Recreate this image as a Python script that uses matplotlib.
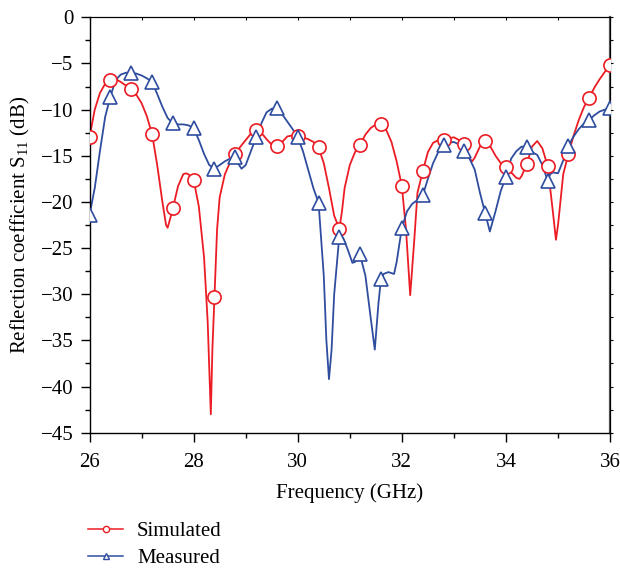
#### __import packages__ ####

import matplotlib
matplotlib.use("Agg")
import matplotlib.pyplot as plt
from matplotlib.ticker import MultipleLocator


#### __data__ ####

# dense trace of the simulated curve (GHz, dB)
sim_freq = [26.0, 26.1, 26.2, 26.3, 26.4, 26.5, 26.6, 26.7, 26.8, 26.9,
            27.0, 27.1, 27.2, 27.3, 27.4, 27.47, 27.5, 27.55, 27.6, 27.7,
            27.8, 27.85, 27.9, 28.0, 28.1, 28.2, 28.27, 28.33, 28.36, 28.4,
            28.45, 28.5, 28.6, 28.7, 28.8, 28.9, 29.0, 29.1, 29.2, 29.3,
            29.4, 29.5, 29.6, 29.7, 29.8, 29.9, 30.0, 30.1, 30.2, 30.3,
            30.4, 30.5, 30.6, 30.7, 30.8, 30.85, 30.9, 31.0, 31.1, 31.2,
            31.3, 31.4, 31.5, 31.6, 31.7, 31.8, 31.9, 32.0, 32.08, 32.16,
            32.24, 32.3, 32.4, 32.5, 32.6, 32.7, 32.8, 32.9, 33.0, 33.1,
            33.2, 33.3, 33.35, 33.4, 33.5, 33.6, 33.7, 33.8, 33.9, 34.0,
            34.1, 34.2, 34.26, 34.3, 34.4, 34.5, 34.6, 34.7, 34.8, 34.9,
            34.96, 35.0, 35.1, 35.2, 35.3, 35.4, 35.5, 35.6, 35.7, 35.8,
            35.9, 36.0]
sim_s11 = [-13.0, -10.0, -8.2, -7.2, -6.8, -6.7, -7.0, -7.4, -7.8, -8.4,
           -9.3, -10.7, -12.6, -16.0, -20.0, -22.5, -22.8, -21.8, -20.7, -18.3,
           -17.0, -16.9, -17.0, -17.6, -20.5, -26.0, -33.0, -43.0, -36.0, -30.3,
           -23.0, -19.5, -17.0, -15.7, -14.8, -14.0, -13.3, -12.6, -12.2, -12.5,
           -13.2, -13.8, -13.9, -13.5, -12.9, -12.8, -12.9, -13.0, -13.2, -13.5,
           -14.1, -15.8, -18.5, -21.5, -22.9, -21.0, -18.5, -16.0, -14.6, -13.8,
           -12.7, -12.0, -11.6, -11.6, -12.2, -13.5, -15.6, -18.3, -23.0, -30.1,
           -24.0, -19.0, -16.7, -14.6, -13.6, -13.3, -13.3, -13.1, -13.0, -13.3,
           -13.75, -15.3, -15.6, -15.2, -14.0, -13.4, -14.0, -15.0, -15.8, -16.2,
           -16.8, -17.4, -17.5, -17.2, -15.9, -14.0, -13.4, -14.2, -16.1, -21.0,
           -24.1, -22.5, -17.0, -14.8, -12.8, -11.1, -9.7, -8.7, -7.6, -6.7,
           -5.9, -5.2]

# dense trace of the measured curve (GHz, dB)
meas_freq = [26.0, 26.1, 26.2, 26.3, 26.4, 26.5, 26.6, 26.7, 26.8, 26.9,
             27.0, 27.1, 27.2, 27.3, 27.4, 27.5, 27.6, 27.7, 27.8, 27.9,
             28.0, 28.1, 28.2, 28.3, 28.4, 28.5, 28.6, 28.7, 28.8, 28.85,
             28.92, 29.0, 29.1, 29.2, 29.3, 29.4, 29.5, 29.6, 29.7, 29.8,
             29.9, 30.0, 30.1, 30.2, 30.3, 30.4, 30.5, 30.55, 30.6, 30.65,
             30.7, 30.8, 30.87, 30.95, 31.05, 31.1, 31.2, 31.3, 31.4, 31.48,
             31.55, 31.6, 31.65, 31.74, 31.85, 31.9, 32.0, 32.1, 32.2, 32.3,
             32.4, 32.5, 32.6, 32.7, 32.8, 32.9, 33.0, 33.1, 33.2, 33.3,
             33.4, 33.5, 33.6, 33.69, 33.8, 33.9, 34.0, 34.1, 34.2, 34.3,
             34.4, 34.5, 34.6, 34.7, 34.8, 34.85, 34.9, 35.0, 35.1, 35.2,
             35.3, 35.4, 35.5, 35.6, 35.7, 35.8, 35.9, 36.0]
meas_s11 = [-21.4, -18.5, -14.5, -10.8, -8.6, -6.8, -6.2, -6.0, -6.0, -6.1,
            -6.3, -6.6, -7.0, -8.3, -9.7, -10.9, -11.5, -11.6, -11.6, -11.7,
            -12.0, -13.3, -14.8, -16.0, -16.4, -16.0, -15.6, -15.3, -15.1, -15.8,
            -16.4, -16.0, -14.5, -13.0, -11.5, -10.3, -9.9, -9.8, -10.5, -11.3,
            -12.1, -13.0, -14.5, -16.5, -18.5, -20.1, -28.0, -35.0, -39.2, -36.0,
            -30.0, -23.6, -23.9, -25.0, -26.6, -26.5, -25.8, -28.0, -32.5, -36.0,
            -31.0, -28.3, -27.8, -27.6, -27.8, -26.5, -22.8, -21.0, -20.2, -19.8,
            -19.3, -17.5, -15.8, -14.6, -13.8, -13.6, -13.5, -13.8, -14.45, -15.3,
            -16.5, -19.0, -21.2, -23.2, -21.0, -18.8, -17.3, -15.3, -14.5, -14.0,
            -14.1, -14.6, -14.9, -16.0, -17.7, -17.0, -16.8, -16.9, -15.5, -13.9,
            -12.9, -12.1, -11.5, -11.1, -10.6, -10.2, -10.0, -9.8]

# marker positions, every 0.4 GHz
marker_freq = [26.0, 26.4, 26.8, 27.2, 27.6, 28.0, 28.4, 28.8, 29.2, 29.6,
               30.0, 30.4, 30.8, 31.2, 31.6, 32.0, 32.4, 32.8, 33.2, 33.6,
               34.0, 34.4, 34.8, 35.2, 35.6, 36.0]
sim_marker = [-13.0, -6.8, -7.8, -12.6, -20.7, -17.6, -30.3, -14.8, -12.2, -13.9,
              -12.9, -14.1, -22.9, -13.8, -11.6, -18.3, -16.7, -13.3, -13.75, -13.4,
              -16.2, -15.9, -16.1, -14.8, -8.7, -5.2]
meas_marker = [-21.4, -8.6, -6.0, -7.0, -11.5, -12.0, -16.4, -15.1, -13.0, -9.8,
               -13.0, -20.1, -23.8, -25.6, -28.3, -22.8, -19.3, -13.8, -14.45, -21.2,
               -17.3, -14.1, -17.7, -13.9, -11.1, -9.8]

red = "#ec1c24"
blue = "#2f4d9f"


#### __plot__ ####

plt.rcParams["font.family"] = ["Liberation Serif", "DejaVu Serif"]
plt.rcParams["mathtext.default"] = "regular"
plt.rcParams["font.size"] = 15

fig = plt.figure(figsize=(6.2, 5.68), dpi=100)
ax = fig.add_axes([0.1444, 0.2382, 0.8396, 0.7313])

ax.plot(sim_freq, sim_s11, color=red, lw=1.3, zorder=2)
ax.plot(meas_freq, meas_s11, color=blue, lw=1.3, zorder=2)
ax.plot(marker_freq, sim_marker, ls="none", marker="o", ms=9.5,
        mfc="white", mec=red, mew=1.2, zorder=3)
ax.plot(marker_freq, meas_marker, ls="none", marker="^", ms=9.5,
        mfc="white", mec=blue, mew=1.2, zorder=3)

# legend handles drawn with small markers
h_sim, = ax.plot([], [], color=red, lw=1.1, marker="o", ms=4.5, mfc="white", mec=red, mew=1.0)
h_meas, = ax.plot([], [], color=blue, lw=1.1, marker="^", ms=4.5, mfc="white", mec=blue, mew=1.0)
fig.legend([h_sim, h_meas], ["Simulated", "Measured"], loc="lower left",
           bbox_to_anchor=(0.142, 0.0), frameon=False, borderpad=0,
           borderaxespad=0, handlelength=1.7, handletextpad=0.65,
           labelspacing=0.36, fontsize=15)

ax.set_xlim(26, 36)
ax.set_ylim(-45, 0)
ax.xaxis.set_major_locator(MultipleLocator(2))
ax.xaxis.set_minor_locator(MultipleLocator(1))
ax.yaxis.set_major_locator(MultipleLocator(5))
ax.yaxis.set_minor_locator(MultipleLocator(2.5))
ax.tick_params(which="major", direction="out", length=6.5, width=1.0)
ax.tick_params(which="minor", direction="out", length=3.3, width=1.0)
ax.tick_params(axis="x", which="major", pad=8)
ax.tick_params(axis="y", which="major", pad=5)

# small ticks on the top and right edges
top = ax.secondary_xaxis("top")
top.xaxis.set_major_locator(MultipleLocator(1))
top.tick_params(direction="in", length=2.5, width=0.8, labeltop=False)
right = ax.secondary_yaxis("right")
right.yaxis.set_major_locator(MultipleLocator(2.5))
right.tick_params(direction="out", length=2.5, width=0.8, labelright=False)
right.spines["right"].set_color("#555555")
right.spines["right"].set_linewidth(1.6)

for s in ["left", "bottom"]:
    ax.spines[s].set_linewidth(1.0)

ax.set_xlabel("Frequency (GHz)")
ax.set_ylabel(r"Reflection coefficient S$_{11}$ (dB)")
ax.xaxis.set_label_coords(0.5, -0.122)
ax.yaxis.set_label_coords(-0.11, 0.5)

plt.savefig("out.png", dpi=100)
